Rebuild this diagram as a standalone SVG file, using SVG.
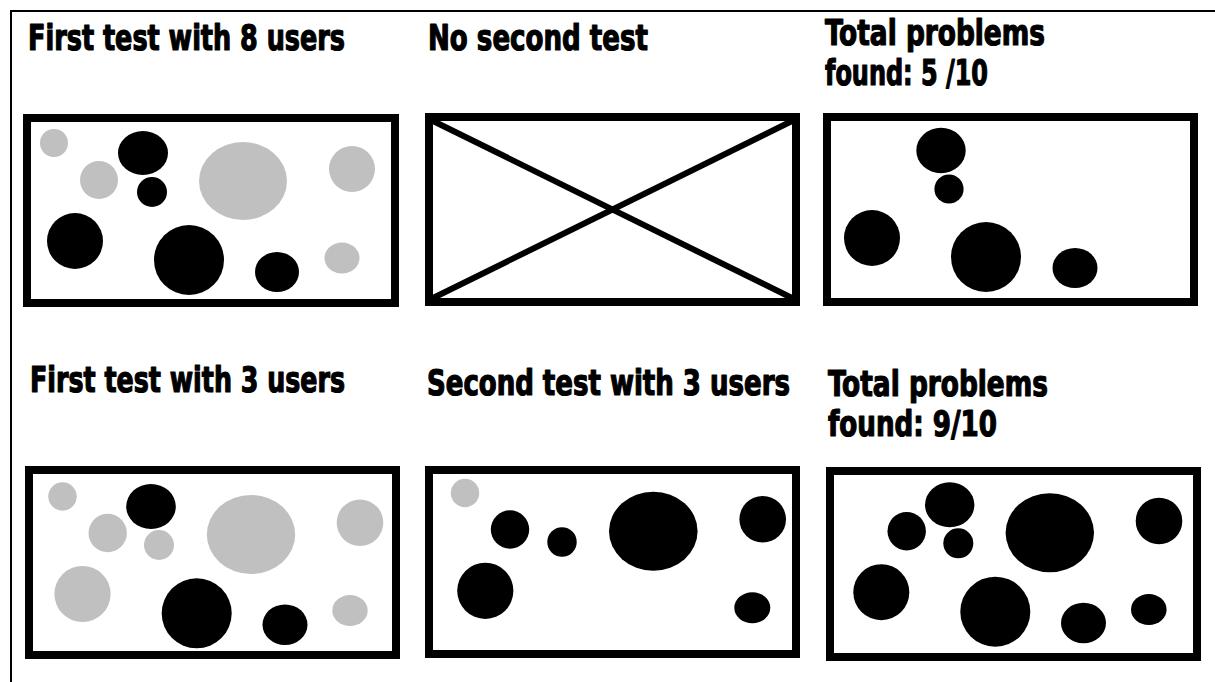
<svg xmlns="http://www.w3.org/2000/svg" width="1215" height="682" viewBox="0 0 1215 682">
<style>
.t{font-family:Impact,"Liberation Sans Narrow","DejaVu Sans Condensed","Liberation Sans",sans-serif;font-weight:bold;font-size:36px;fill:#000;stroke:#000;stroke-width:1.2;stroke-linejoin:round}
.box{fill:#fff;stroke:#000;stroke-width:8}
.b{fill:#000}
.g{fill:#c0c0c0}
.x{stroke:#000;stroke-width:6;stroke-linecap:butt}
</style>
<rect width="1215" height="682" fill="#fff"/>
<path d="M11,682 V11 H1215" fill="none" stroke="#000" stroke-width="2"/>

<g id="panel-first8">
<text class="t" x="28" y="50" textLength="317" lengthAdjust="spacingAndGlyphs">First test with 8 users</text>
<rect class="box" x="27" y="118" width="368" height="185"/>
<circle class="g" cx="54" cy="143" r="14"/>
<ellipse class="b" cx="143" cy="153" rx="25" ry="22"/>
<circle class="g" cx="99" cy="180" r="19"/>
<circle class="b" cx="152" cy="192" r="15"/>
<ellipse class="g" cx="243" cy="181" rx="44" ry="39"/>
<circle class="g" cx="352" cy="169" r="23"/>
<circle class="b" cx="75" cy="241" r="28"/>
<circle class="b" cx="189" cy="260" r="35"/>
<ellipse class="b" cx="277" cy="272" rx="22" ry="20"/>
<ellipse class="g" cx="342" cy="258" rx="17.5" ry="15.5"/>
</g>

<g id="panel-nosecond">
<text class="t" x="428" y="50" textLength="220" lengthAdjust="spacingAndGlyphs">No second test</text>
<rect class="box" x="429" y="117" width="367" height="185"/>
<line class="x" x1="433" y1="121" x2="792" y2="298"/>
<line class="x" x1="792" y1="121" x2="433" y2="298"/>
</g>

<g id="panel-total5">
<text class="t" x="825" y="45" textLength="220" lengthAdjust="spacingAndGlyphs">Total problems</text>
<text class="t" x="825" y="85" textLength="163" lengthAdjust="spacingAndGlyphs">found: 5 /10</text>
<rect class="box" x="827" y="117" width="367" height="185"/>
<ellipse class="b" cx="941" cy="150.5" rx="24.7" ry="22.8"/>
<circle class="b" cx="949" cy="189" r="14.6"/>
<circle class="b" cx="872" cy="238" r="28"/>
<circle class="b" cx="986" cy="257" r="35"/>
<ellipse class="b" cx="1075" cy="268" rx="22.5" ry="20"/>
</g>

<g id="panel-first3">
<text class="t" x="30" y="392" textLength="315" lengthAdjust="spacingAndGlyphs">First test with 3 users</text>
<rect class="box" x="29" y="470" width="367" height="185"/>
<circle class="g" cx="62.5" cy="496.5" r="14.2"/>
<ellipse class="b" cx="151" cy="506.5" rx="24.8" ry="22.5"/>
<circle class="g" cx="107.7" cy="533" r="19.2"/>
<circle class="g" cx="159" cy="545" r="15"/>
<ellipse class="g" cx="251" cy="534.5" rx="44.2" ry="39.5"/>
<circle class="g" cx="360" cy="522.7" r="23.3"/>
<circle class="g" cx="82.5" cy="594" r="28.1"/>
<circle class="b" cx="196.7" cy="613.3" r="35"/>
<ellipse class="b" cx="285" cy="624.7" rx="22.5" ry="20.3"/>
<ellipse class="g" cx="350" cy="610.5" rx="17.7" ry="15.5"/>
</g>

<g id="panel-second3">
<text class="t" transform="translate(427,395) scale(1,1.24)" x="0" y="0" style="font-size:29px;stroke-width:1" textLength="363" lengthAdjust="spacingAndGlyphs">Second test with 3 users</text>
<rect class="box" x="429" y="470" width="367" height="184"/>
<circle class="g" cx="465" cy="493" r="14.2"/>
<circle class="b" cx="510" cy="529.5" r="19.2"/>
<circle class="b" cx="562" cy="542" r="14.7"/>
<ellipse class="b" cx="653.3" cy="531.2" rx="44.3" ry="39.5"/>
<circle class="b" cx="762.7" cy="519.3" r="23.3"/>
<circle class="b" cx="485.3" cy="590.8" r="28.1"/>
<ellipse class="b" cx="752.3" cy="607.8" rx="18" ry="15.5"/>
</g>

<g id="panel-total9">
<text class="t" x="828" y="396" textLength="220" lengthAdjust="spacingAndGlyphs">Total problems</text>
<text class="t" x="828" y="435.5" textLength="169" lengthAdjust="spacingAndGlyphs">found: 9/10</text>
<rect class="box" x="830" y="471" width="367" height="186"/>
<ellipse class="b" cx="949.7" cy="504.8" rx="24.7" ry="22.5"/>
<circle class="b" cx="906.7" cy="531.2" r="19.2"/>
<circle class="b" cx="958.3" cy="543.3" r="15"/>
<ellipse class="b" cx="1049.8" cy="532.8" rx="44.2" ry="39.5"/>
<circle class="b" cx="1159" cy="521" r="23.3"/>
<circle class="b" cx="881.3" cy="592.2" r="28"/>
<circle class="b" cx="995.3" cy="611.7" r="35"/>
<ellipse class="b" cx="1083.5" cy="623" rx="22.5" ry="20.3"/>
<ellipse class="b" cx="1148.8" cy="609.5" rx="17.8" ry="15.5"/>
</g>
</svg>
